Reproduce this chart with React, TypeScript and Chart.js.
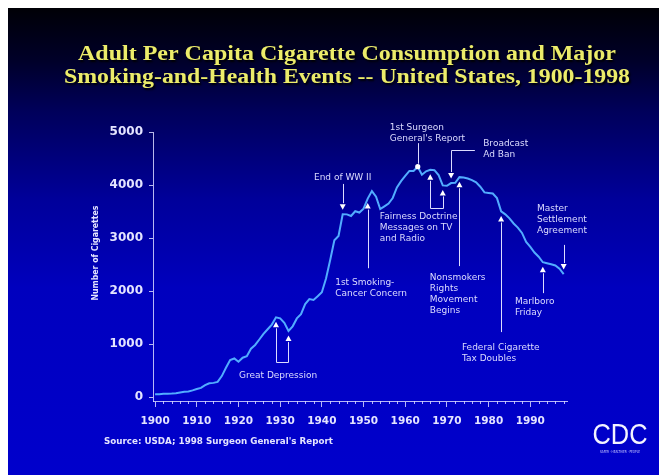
import { useEffect, useRef } from "react";
import { Chart, registerables } from "chart.js";

Chart.register(...registerables);

// ---------- data ----------
const years = [
  1900, 1901, 1902, 1903, 1904, 1905, 1906, 1907, 1908, 1909,
  1910, 1911, 1912, 1913, 1914, 1915, 1916, 1917, 1918, 1919,
  1920, 1921, 1922, 1923, 1924, 1925, 1926, 1927, 1928, 1929,
  1930, 1931, 1932, 1933, 1934, 1935, 1936, 1937, 1938, 1939,
  1940, 1941, 1942, 1943, 1944, 1945, 1946, 1947, 1948, 1949,
  1950, 1951, 1952, 1953, 1954, 1955, 1956, 1957, 1958, 1959,
  1960, 1961, 1962, 1963, 1964, 1965, 1966, 1967, 1968, 1969,
  1970, 1971, 1972, 1973, 1974, 1975, 1976, 1977, 1978, 1979,
  1980, 1981, 1982, 1983, 1984, 1985, 1986, 1987, 1988, 1989,
  1990, 1991, 1992, 1993, 1994, 1995, 1996, 1997, 1998,
];

const cigarettesPerCapita = [
  54, 53, 60, 64, 66, 70, 86, 99, 105, 125,
  151, 173, 223, 260, 267, 285, 395, 551, 697, 727,
  665, 742, 770, 911, 982, 1085, 1191, 1279, 1366, 1504,
  1485, 1399, 1245, 1334, 1483, 1564, 1754, 1847, 1830, 1900,
  1976, 2236, 2585, 2956, 3039, 3449, 3446, 3416, 3505, 3480,
  3552, 3744, 3886, 3778, 3546, 3597, 3650, 3755, 3953, 4073,
  4171, 4266, 4266, 4345, 4194, 4258, 4287, 4280, 4186, 3993,
  3985, 4037, 4043, 4148, 4141, 4123, 4092, 4051, 3967, 3861,
  3851, 3840, 3753, 3502, 3446, 3370, 3274, 3197, 3096, 2926,
  2834, 2727, 2647, 2543, 2524, 2505, 2482, 2423, 2320,
];

const xTickYears = [1900, 1910, 1920, 1930, 1940, 1950, 1960, 1970, 1980, 1990];
const yTickValues = [0, 1000, 2000, 3000, 4000, 5000];

const titleLines = [
  "Adult Per Capita Cigarette Consumption and Major",
  "Smoking-and-Health Events -- United States, 1900-1998",
];
const yAxisTitle = "Number of Cigarettes";
const sourceText = "Source: USDA; 1998 Surgeon General's Report";

type Marker = { year: number; side: "above" | "below" | "on" };
type Connector =
  | { type: "stem"; toValue: number }
  | { type: "bracket"; toValue: number }
  | { type: "elbow"; toValue: number; toYear: number };
type Annotation = {
  lines: string[];
  labelYear: number;
  labelValue: number;
  align: "left" | "center";
  markers: Marker[];
  connector: Connector;
};

const events: Annotation[] = [
  {
    lines: ["Great Depression"],
    labelYear: 1929.5, labelValue: 400, align: "center",
    markers: [{ year: 1929, side: "below" }, { year: 1932, side: "below" }],
    connector: { type: "bracket", toValue: 660 },
  },
  {
    lines: ["End of WW II"],
    labelYear: 1945, labelValue: 4130, align: "center",
    markers: [{ year: 1945, side: "above" }],
    connector: { type: "stem", toValue: 4020 },
  },
  {
    lines: ["1st Smoking-", "Cancer Concern"],
    labelYear: 1943.2, labelValue: 2150, align: "left",
    markers: [{ year: 1951, side: "below" }],
    connector: { type: "stem", toValue: 2430 },
  },
  {
    lines: ["1st Surgeon", "General's Report"],
    labelYear: 1956.3, labelValue: 5075, align: "left",
    markers: [{ year: 1963, side: "on" }],
    connector: { type: "stem", toValue: 4790 },
  },
  {
    lines: ["Fairness Doctrine", "Messages on TV", "and Radio"],
    labelYear: 1953.9, labelValue: 3395, align: "left",
    markers: [{ year: 1966, side: "below" }, { year: 1969, side: "below" }],
    connector: { type: "bracket", toValue: 3565 },
  },
  {
    lines: ["Broadcast", "Ad Ban"],
    labelYear: 1978.7, labelValue: 4775, align: "left",
    markers: [{ year: 1971, side: "above" }],
    connector: { type: "elbow", toValue: 4660, toYear: 1976.7 },
  },
  {
    lines: ["Nonsmokers", "Rights", "Movement", "Begins"],
    labelYear: 1965.9, labelValue: 2245, align: "left",
    markers: [{ year: 1973, side: "below" }],
    connector: { type: "stem", toValue: 2470 },
  },
  {
    lines: ["Federal Cigarette", "Tax Doubles"],
    labelYear: 1973.6, labelValue: 925, align: "left",
    markers: [{ year: 1983, side: "below" }],
    connector: { type: "stem", toValue: 1225 },
  },
  {
    lines: ["Marlboro", "Friday"],
    labelYear: 1986.3, labelValue: 1795, align: "left",
    markers: [{ year: 1993, side: "below" }],
    connector: { type: "stem", toValue: 1960 },
  },
  {
    lines: ["Master", "Settlement", "Agreement"],
    labelYear: 1991.6, labelValue: 3545, align: "left",
    markers: [{ year: 1998, side: "above" }],
    connector: { type: "stem", toValue: 2870 },
  },
];

// ---------- styles ----------
const AXIS_COLOR = "rgba(215,215,255,0.85)";
const TEXT_COLOR = "#e4e4ff";
const ANN_COLOR = "#dcdcff";
const LINE_COLOR = "#52acff";
const TITLE_COLOR = "#ecec6a";

function valueAt(year: number): number {
  const i = years.indexOf(year);
  return i >= 0 ? cigarettesPerCapita[i] : 0;
}

function drawText(
  ctx: CanvasRenderingContext2D,
  text: string,
  x: number,
  y: number,
  font: string,
  color: string,
  align: CanvasTextAlign,
  width?: number
) {
  ctx.save();
  ctx.font = font;
  ctx.fillStyle = color;
  ctx.textBaseline = "middle";
  ctx.textAlign = align;
  const w = ctx.measureText(text).width;
  const sx = width ? width / w : 1;
  ctx.translate(x, y);
  ctx.scale(sx, 1);
  ctx.fillText(text, 0, 0);
  ctx.restore();
}

const slidePlugin = {
  id: "slide",
  beforeDraw(chart: any) {
    const { ctx, width, height } = chart;
    const g = ctx.createLinearGradient(0, 0, 0, height);
    g.addColorStop(0, "#000006");
    g.addColorStop(0.11, "#000028");
    g.addColorStop(0.22, "#00005a");
    g.addColorStop(0.41, "#00009a");
    g.addColorStop(0.6, "#0000be");
    g.addColorStop(1, "#0000cc");
    ctx.save();
    ctx.fillStyle = g;
    ctx.fillRect(0, 0, width, height);
    ctx.restore();
  },
  afterDraw(chart: any) {
    const { ctx } = chart;
    const xs = chart.scales.x;
    const ys = chart.scales.y;
    const area = chart.chartArea;

    // minor x ticks (every 2 years)
    ctx.save();
    ctx.strokeStyle = AXIS_COLOR;
    ctx.lineWidth = 1;
    ctx.beginPath();
    for (let yr = 1902; yr <= 1998; yr += 2) {
      if (yr % 10 === 0) continue;
      const px = Math.round(xs.getPixelForValue(yr)) + 0.5;
      ctx.moveTo(px, area.bottom);
      ctx.lineTo(px, area.bottom + 3);
    }
    ctx.stroke();
    ctx.restore();

    // title
    ctx.save();
    ctx.shadowColor = "rgba(0,0,0,0.95)";
    ctx.shadowOffsetX = 1.5;
    ctx.shadowOffsetY = 1.5;
    ctx.shadowBlur = 2;
    drawText(ctx, titleLines[0], 339, 47, "bold 20px 'Liberation Serif'", TITLE_COLOR, "center", 538);
    drawText(ctx, titleLines[1], 339, 70, "bold 20px 'Liberation Serif'", TITLE_COLOR, "center", 566);
    ctx.restore();

    // y axis title
    ctx.save();
    ctx.translate(88, 245);
    ctx.rotate(-Math.PI / 2);
    drawText(ctx, yAxisTitle, 0, 0, "bold 8px 'DejaVu Sans'", TEXT_COLOR, "center", 95);
    ctx.restore();

    // annotations
    const lineH = 11;
    ctx.save();
    ctx.strokeStyle = ANN_COLOR;
    ctx.fillStyle = "#ffffff";
    ctx.lineWidth = 1;
    for (const ev of events) {
      const pts = ev.markers.map((m) => {
        const x = xs.getPixelForValue(m.year);
        const cy = ys.getPixelForValue(valueAt(m.year));
        return { x, cy, side: m.side };
      });
      ctx.beginPath();
      const c = ev.connector;
      const endY = ys.getPixelForValue(c.toValue);
      const farEnd = (p: any) =>
        p.side === "below" ? p.cy + 11 : p.side === "above" ? p.cy - 11 : p.cy - 3;
      if (c.type === "stem") {
        const p = pts[0];
        const px = Math.round(p.x) + 0.5;
        ctx.moveTo(px, farEnd(p));
        ctx.lineTo(px, endY);
      } else if (c.type === "bracket") {
        const a = pts[0];
        const b = pts[1];
        const ax = Math.round(a.x) + 0.5;
        const bx = Math.round(b.x) + 0.5;
        ctx.moveTo(ax, farEnd(a));
        ctx.lineTo(ax, Math.round(endY) + 0.5);
        ctx.lineTo(bx, Math.round(endY) + 0.5);
        ctx.lineTo(bx, farEnd(b));
      } else if (c.type === "elbow") {
        const p = pts[0];
        const px = Math.round(p.x) + 0.5;
        ctx.moveTo(px, farEnd(p));
        ctx.lineTo(px, Math.round(endY) + 0.5);
        ctx.lineTo(xs.getPixelForValue(c.toYear), Math.round(endY) + 0.5);
      }
      ctx.stroke();
      for (const p of pts) {
        ctx.beginPath();
        if (p.side === "below") {
          ctx.moveTo(p.x, p.cy + 4.5);
          ctx.lineTo(p.x - 3, p.cy + 10);
          ctx.lineTo(p.x + 3, p.cy + 10);
          ctx.closePath();
        } else if (p.side === "above") {
          ctx.moveTo(p.x, p.cy - 4.5);
          ctx.lineTo(p.x - 3, p.cy - 10);
          ctx.lineTo(p.x + 3, p.cy - 10);
          ctx.closePath();
        } else {
          ctx.arc(p.x, p.cy, 2.6, 0, Math.PI * 2);
        }
        ctx.fill();
      }
      const lx = xs.getPixelForValue(ev.labelYear);
      const ly = ys.getPixelForValue(ev.labelValue);
      ev.lines.forEach((t, i) => {
        drawText(ctx, t, lx, ly + i * lineH, "9px 'DejaVu Sans'", ANN_COLOR, ev.align);
      });
    }
    ctx.restore();

    // source
    drawText(ctx, sourceText, 96, 434, "bold 8px 'DejaVu Sans'", TEXT_COLOR, "left", 229);

    // CDC logo text
    drawText(ctx, "CDC", 612, 428, "30px 'Liberation Sans'", "#f4f4ff", "center", 55);
    drawText(ctx, "SAFER · HEALTHIER · PEOPLE", 612, 444, "4px 'DejaVu Sans'", "#c8c8ff", "center", 40);
  },
};

export default function App() {
  const canvasRef = useRef<HTMLCanvasElement | null>(null);

  useEffect(() => {
    const canvas = canvasRef.current;
    if (!canvas) return;
    const chart = new Chart(canvas, {
      type: "line",
      data: {
        datasets: [
          {
            label: "Adult per capita cigarette consumption",
            data: years.map((y, i) => ({ x: y, y: cigarettesPerCapita[i] })),
            borderColor: LINE_COLOR,
            borderWidth: 2,
            pointRadius: 0,
            tension: 0,
            fill: false,
          },
        ],
      },
      options: {
        responsive: false,
        animation: false,
        events: [],
        layout: { padding: { top: 124, right: 100, left: 0, bottom: 0 } },
        plugins: {
          legend: { display: false },
          tooltip: { enabled: false },
          title: { display: false },
        },
        scales: {
          x: {
            type: "linear",
            min: 1899.5,
            max: 1998.8,
            afterFit: (s: any) => {
              s.height = 74;
            },
            afterBuildTicks: (s: any) => {
              s.ticks = xTickYears.map((v) => ({ value: v }));
            },
            grid: {
              drawOnChartArea: false,
              drawTicks: true,
              tickLength: 6,
              color: AXIS_COLOR,
            },
            border: { display: true, color: AXIS_COLOR, width: 1 },
            ticks: {
              color: TEXT_COLOR,
              font: { family: "'DejaVu Sans'", weight: "bold", size: 10.5 },
              padding: 8,
              maxRotation: 0,
              autoSkip: false,
              callback: (v: any) => String(v),
            },
          },
          y: {
            type: "linear",
            min: -75,
            max: 5000,
            afterFit: (s: any) => {
              s.width = 145;
            },
            afterBuildTicks: (s: any) => {
              s.ticks = yTickValues.map((v) => ({ value: v }));
            },
            grid: {
              drawOnChartArea: false,
              drawTicks: true,
              tickLength: 4,
              color: AXIS_COLOR,
            },
            border: { display: true, color: AXIS_COLOR, width: 1 },
            ticks: {
              color: TEXT_COLOR,
              font: { family: "'DejaVu Sans'", weight: "bold", size: 12 },
              padding: 6,
              callback: (v: any) => String(v),
            },
          },
        },
      },
      plugins: [slidePlugin],
    });
    return () => chart.destroy();
  }, []);

  return (
    <canvas
      ref={canvasRef}
      width={659}
      height={467}
      style={{ display: "block", width: 659, height: 467 }}
    />
  );
}
